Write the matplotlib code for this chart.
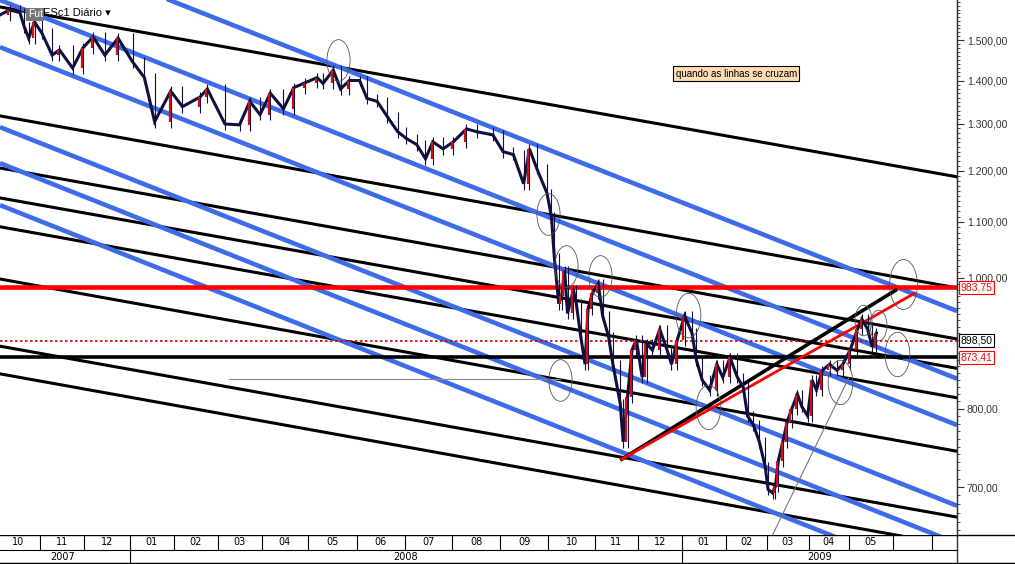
import matplotlib
matplotlib.use("Agg")
import matplotlib.pyplot as plt
import numpy as np
from matplotlib.path import Path
from matplotlib.ticker import FixedLocator, NullFormatter

# ---- data (x in chart-day units, prices) ----
days = [3,10,17,20,23,27,32,39,44,53,60,67,75,84,94,102,109,120,128,140,145,157,167,174,181,188,197,204,212,220,224,231,236,242,249,254,261,268,275,281,288,294,299,306,313,322,329,340,347,354,361,365,370,377,380,382,385,387,389,391,395,397,400,403,405,408,412,415,419,422,427,429,432,435,438,442,445,449,454,459,462,466,471,476,479,483,488,493,497,502,507,511,514,518,522,526,528,531,533,535,538,541,544,548,551,555,558,561,565,570,575,579,584,589,592,596,599,602]
closes = [1565,1579,1572,1534,1505,1547,1518,1462,1475,1430,1480,1508,1462,1505,1445,1407,1305,1375,1339,1361,1380,1300,1298,1351,1321,1370,1334,1383,1395,1407,1393,1425,1380,1400,1400,1358,1351,1316,1283,1268,1255,1225,1261,1246,1261,1289,1283,1276,1240,1234,1174,1246,1205,1155,1110,1035,957,969,1013,941,980,957,905,863,948,974,990,937,905,863,807,756,816,884,900,844,894,884,916,884,863,900,937,910,869,840,826,863,844,873,844,830,790,778,756,725,697,693,701,732,756,782,799,820,803,790,840,826,854,863,854,863,884,916,932,916,889,910]

month_bounds = [0,31,61,92,122,152,182,214,247,280,312,345,378,410,439,469,499,527,556,583,613,640,657]
month_labels = ["10","11","12","01","02","03","04","05","06","07","08","09","10","11","12","01","02","03","04","05","",""]
year_bounds = [0,92,469,657]
year_labels = ["2007","2008","2009"]

x_left, x_right = 3.4, 657
black_lines = [(1587,1188),(1318,983),(1206,901),(1146,857),(1091,815),(998,744),(890,665),(849,633)]
blue_lines = [(1800,945),(1606,842),(1482,778),(1293,678),(1216,636),(1132,592)]
red_level, dotted_level, black_level = 983.75, 898.50, 873.41
red_diag = [(428,734),(628,974)]
black_diag = [(428,734),(615,979)]
gray_diag = [(531,645),(583,843)]
gray_h = [(160,842),(386,842)]
circle_days = [234,378,390,413,473,386,487,577,620,616,603,593]
circle_prices = [1450,1115,1020,1003,939,840,802,837,990,878,923,931]
circle_sizes = [30,30,30,30,32,30,32,32,36,32,22,22]

yticks = [700,800,1000,1100,1200,1300,1400,1500]

W, H = 1015, 564
fig = plt.figure(figsize=(W/100, H/100), dpi=100)
ax = fig.add_axes([0, 29/H, 957/W, 535/H])
ax.set_yscale("log")
ax.set_xlim(x_left, x_right)
ax.set_ylim(645, 1606)

for a, b in black_lines:
    ax.plot([x_left, x_right], [a, b], color="black", lw=2.2, zorder=2)
for a, b in blue_lines:
    ax.plot([x_left, x_right], [a, b], color="#3d6bea", lw=3.3, zorder=2, solid_capstyle="butt")

ax.axhline(red_level, color="#ff0000", lw=3.3, zorder=3)
ax.axhline(black_level, color="black", lw=2.6, zorder=3)
ax.axhline(dotted_level, color="#cc0000", lw=1.2, ls=(0, (1.5, 1.5)), zorder=3)
ax.plot(*zip(*gray_h), color="#888888", lw=0.8, zorder=2)
ax.plot(*zip(*gray_diag), color="#777777", lw=0.8, zorder=2)
ax.plot(*zip(*black_diag), color="black", lw=2.6, zorder=4)
ax.plot(*zip(*red_diag), color="#ff0000", lw=2.0, zorder=5)

# price path: navy body with red up-moves and thin wicks
ax.plot(days, closes, color="#101040", lw=2.2, zorder=6, solid_joinstyle="miter")
prev = closes[0]
for d, c in zip(days, closes):
    lo, hi = min(prev, c), max(prev, c)
    ax.vlines(d, lo * 0.99, hi * 1.008, color="#101040", lw=0.8, zorder=6)
    if c > prev:
        ax.vlines(d - 0.8, lo, hi, color="#cc1111", lw=1.6, zorder=7)
    prev = c

circ = Path.unit_circle().transformed(matplotlib.transforms.Affine2D().scale(1, 1.8))
for d, p, s in zip(circle_days, circle_prices, circle_sizes):
    ax.plot([d], [p], marker=circ, ms=s, mfc="none", mec="#555555", mew=0.6, zorder=8)

ax.text(0.706, 0.862, "quando as linhas se cruzam", transform=ax.transAxes, fontsize=7,
        family="Liberation Sans", ha="left", va="center",
        bbox=dict(boxstyle="square,pad=0.25", fc="#ffdcb4", ec="black", lw=0.8), zorder=10)

ax.text(0.029, 0.983, "Fut", transform=ax.transAxes, fontsize=7.5, color="white", family="Liberation Sans",
        va="top", ha="left", bbox=dict(boxstyle="square,pad=0.15", fc="#777777", ec="none"), zorder=10)
ax.text(0.045, 0.985, "ESc1 Diário \u25be", transform=ax.transAxes, fontsize=8,
        family=["Liberation Sans", "DejaVu Sans"], va="top", ha="left", zorder=10)

ax.yaxis.tick_right()
ax.yaxis.set_major_locator(FixedLocator(yticks))
ax.yaxis.set_major_formatter(matplotlib.ticker.FuncFormatter(
    lambda v, _: f"{v:,.2f}".replace(",", "X").replace(".", ",").replace("X", ".")))
ax.yaxis.set_minor_locator(FixedLocator(np.arange(650, 1610, 10)))
ax.yaxis.set_minor_formatter(NullFormatter())
ax.tick_params(axis="y", which="major", length=5, labelsize=7.5, colors="#333333", pad=2)
ax.tick_params(axis="y", which="minor", length=2.5, colors="#333333")
for lab in ax.get_yticklabels():
    lab.set_family("Liberation Sans")
ax.set_xticks([])
for s in ["top", "left", "bottom"]:
    ax.spines[s].set_visible(False)
ax.spines["right"].set_color("#333333")

for lvl, txt, col in [(red_level, "983,75", "#ff0000"), (dotted_level, "898,50", "black"), (black_level, "873,41", "#ff0000")]:
    ax.text(1.004, lvl, txt, transform=ax.get_yaxis_transform(), fontsize=7.5, color=col,
            family="Liberation Sans", va="center", ha="left", clip_on=False,
            bbox=dict(boxstyle="square,pad=0.15", fc="white", ec=col, lw=0.8), zorder=11)

bx = fig.add_axes([0, 0, 957/W, 29/H])
bx.set_xlim(x_left, x_right)
bx.set_ylim(0, 2)
bx.axis("off")
bx.axhline(2, color="black", lw=1)
bx.axhline(1, color="black", lw=0.8)
bx.axhline(0.01, color="black", lw=0.8)
for i, lab in enumerate(month_labels):
    a, b = month_bounds[i], month_bounds[i + 1]
    bx.plot([a, a], [1, 2], color="black", lw=0.8)
    bx.text((a + b) / 2, 1.5, lab, ha="center", va="center", fontsize=7, family="Liberation Sans Narrow")
for i, lab in enumerate(year_labels):
    a, b = year_bounds[i], year_bounds[i + 1]
    bx.plot([a, a], [0, 1], color="black", lw=0.8)
    bx.text((a + b) / 2, 0.5, lab, ha="center", va="center", fontsize=7, family="Liberation Sans Narrow")
fig.add_artist(plt.Line2D([957/W, 957/W], [0, 1], color="#333333", lw=1))
fig.add_artist(plt.Line2D([957/W, 1], [29/H, 29/H], color="black", lw=1))
fig.add_artist(plt.Line2D([0, 1], [1/H, 1/H], color="black", lw=1))

fig.savefig("out.png", dpi=100)
